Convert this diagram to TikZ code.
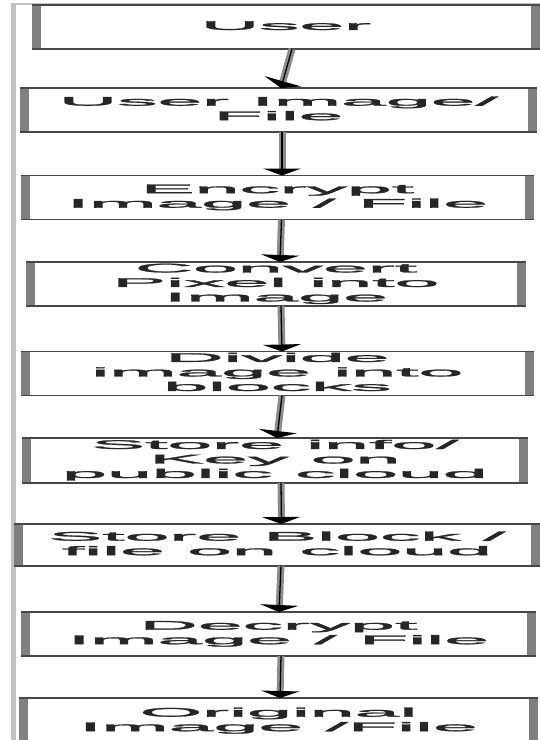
\documentclass[tikz,border=0pt]{standalone}
\usepackage{fontspec}
\setmainfont{Liberation Sans}
\newfontfamily\boxfont[FakeBold=1.6]{Liberation Sans}
\usetikzlibrary{arrows.meta}
\newcommand{\widetext}[1]{\scalebox{6.45}[1]{\boxfont\fontsize{12.5}{14.5}\selectfont\begin{tabular}{@{}c@{}}#1\end{tabular}}}
\tikzset{
  flowbox/.style={minimum width=#1, minimum height=44pt, inner sep=0pt, outer sep=0pt, text=black!85},
  hline/.style={draw=black!72, line width=1.1pt},
  vbar/.style={fill=black!50},
  frameline/.style={draw=black!24, line width=4.5pt},
  shaftbg/.style={draw=black!45, line width=7pt, shorten >=7pt},
  flowarrow/.style={draw=black, line width=1.3pt, -{Triangle[width=38pt,length=7pt]}}
}
\begin{document}
\begin{tikzpicture}[x=1pt, y=-1pt]
\useasboundingbox (0,0) rectangle (540,740);
\fill[white] (0,0) rectangle (540,740);
\draw[draw=black!24, line width=1.5pt] (11,4) -- (540,4);
\draw[frameline] (13.5,4) -- (13.5,745);

\node[flowbox=508pt] (n1) at (286,27) {\widetext{User}};
\node[flowbox=517pt] (n2) at (278.5,110) {\widetext{User Image/\\File}};
\node[flowbox=513pt] (n3) at (277.5,197.5) {\widetext{Encrypt\\Image / File}};
\node[flowbox=500pt] (n4) at (276,284) {\widetext{Convert\\Pixel into\\Image}};
\node[flowbox=513pt] (n5) at (277.5,373.5) {\widetext{Divide\\image into\\blocks}};
\node[flowbox=506pt, minimum height=45pt] (n6) at (275,460.5) {\widetext{Store info/\\Key on\\public cloud}};
\node[flowbox=526pt, minimum height=42pt] (n7) at (277,545) {\widetext{Store Block /\\file on cloud}};
\node[flowbox=515pt] (n8) at (278.5,634) {\widetext{Decrypt\\Image / File}};
\node[flowbox=519pt, minimum height=46pt] (n9) at (278.5,721) {\widetext{Original\\Image /File}};

\foreach \n in {n1,n2,n3,n4,n5,n6,n7,n8,n9}{
  \fill[vbar] (\n.north west) rectangle ([xshift=9pt]\n.south west);
  \fill[vbar] (\n.north east) rectangle ([xshift=-9pt]\n.south east);
  \draw[hline] (\n.north west) -- (\n.north east);
  \draw[hline] (\n.south west) -- (\n.south east);
}

\foreach \a/\sa/\b/\sb in {n1/6/n2/2.5, n2/3.5/n3/4.5, n3/4/n4/4, n4/5/n5/4.5, n5/4.5/n6/2, n6/6/n7/4.5, n7/4/n8/0.5, n8/2.5/n9/1.5}{
  \draw[shaftbg] ([xshift=\sa pt]\a.south) -- ([xshift=\sb pt]\b.north);
  \draw[flowarrow] ([xshift=\sa pt]\a.south) -- ([xshift=\sb pt]\b.north);
}
\end{tikzpicture}
\end{document}
